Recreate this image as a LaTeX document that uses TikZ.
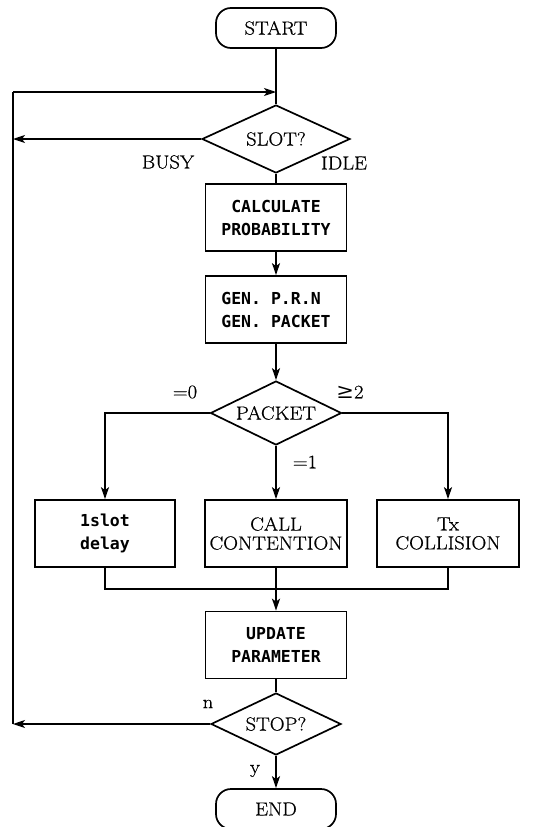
\documentclass[tikz,border=0pt]{standalone}
\usepackage{fontspec}
\usetikzlibrary{shapes.geometric,arrows.meta}
\newfontfamily\monob{DejaVu Sans Mono}
\newfontfamily\djs{DejaVu Serif}
\newfontfamily\serifw{Latin Modern Roman}[FakeStretch=1.08,FakeBold=0.6]
\begin{document}
\begin{tikzpicture}[x=1pt,y=-1pt,
  every node/.style={inner sep=0pt},
  term/.style={draw,line width=1.7pt,rounded corners=15pt,minimum width=120pt,minimum height=40pt,font=\fontsize{19}{20}\serifw},
  decis/.style={draw,diamond,aspect=2,line width=1.7pt,font=\fontsize{19}{20}\serifw},
  procb/.style={draw,line width=1.7pt,minimum width=141pt,minimum height=67pt,align=center,font=\fontsize{16.5}{23}\selectfont\monob\bfseries},
  procs/.style={draw,line width=1.7pt,minimum width=142pt,minimum height=67pt,align=center,font=\fontsize{19}{19}\serifw},
  lbl/.style={font=\fontsize{19}{20}\serifw},
  flow/.style={line width=1.7pt},
  arr/.style={line width=1.7pt,-{Stealth[length=12pt,width=8pt,inset=3pt]}},
  loopl/.style={line width=1.3pt}
]
\useasboundingbox (0,0) rectangle (548,827);

\node[term] (start) at (276,28) {START};
\node[decis,minimum width=148pt,minimum height=68pt] (slot) at (276,139) {SLOT?};
\node[procb] (calc) at (276,217.5) {CALCULATE\\PROBABILITY};
\node[procb,align=left,minimum height=67pt] (gen) at (276,309.5) {GEN. P.R.N\\GEN. PACKET};
\node[decis,minimum width=131pt,minimum height=64pt] (packet) at (276,413) {PACKET};
\node[procb,minimum width=140pt] (delay) at (105,533.5) {1slot\\delay};
\node[procs] (call) at (276,533.5) {CALL\\CONTENTION};
\node[procs] (coll) at (448,533.5) {Tx\\COLLISION};
\node[procb] (update) at (276,645) {UPDATE\\PARAMETER};
\node[decis,minimum width=130pt,minimum height=62pt] (stop) at (276,724) {STOP?};
\node[term] (end) at (276,809) {END};

\coordinate (ltop) at (13,92);
\coordinate (jtop) at (276,92);
\coordinate (lbot) at (13,724);
\coordinate (lbusy) at (13,139);
\coordinate (mleft) at (105,589);
\coordinate (mright) at (448,589);
\coordinate (mmid) at (276,589);

\draw[flow] (start.south) -- (slot.north);
\draw[loopl] (lbot) -- (ltop);
\draw[arr,line width=1.3pt] (ltop) -- (jtop);
\draw[arr,line width=1.3pt] (slot.west) -- (lbusy);
\draw[arr,line width=1.3pt] (stop.west) -- (lbot);
\draw[flow] (slot.south) -- (calc.north);
\draw[arr] (calc.south) -- (gen.north);
\draw[arr] (gen.south) -- (packet.north);
\draw[arr] (packet.west) -| (delay.north);
\draw[arr] (packet.east) -| (coll.north);
\draw[arr] (packet.south) -- (call.north);
\draw[flow] (delay.south) -- (mleft) -- (mright) -- (coll.south);
\draw[flow] (call.south) -- (mmid);
\draw[arr] (mmid) -- (update.north);
\draw[flow] (update.south) -- (stop.north);
\draw[arr] (stop.south) -- (end.north);

\node[lbl] (busy) at (168,162) {BUSY};
\node[lbl] (idle) at (344,163) {IDLE};
\node[lbl] (l0) at (185,392) {=0};
\node[lbl] (l2) at (350,392) {{\djs\fontsize{21}{20}\selectfont ≥}2};
\node[lbl] (l1) at (305,462) {=1};
\node[lbl] (ln) at (208,704) {n};
\node[lbl] (ly) at (255,771) {y};
\end{tikzpicture}
\end{document}
